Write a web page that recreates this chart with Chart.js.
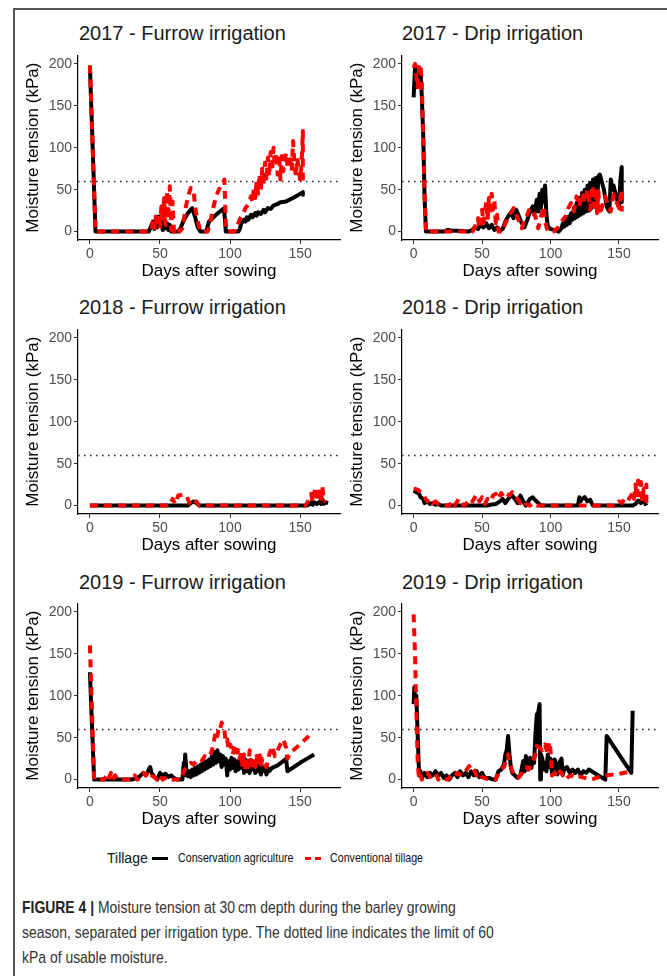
<!DOCTYPE html>
<html lang="en">
<head>
    <meta charset="UTF-8">
    <title>Figure 4 - Moisture tension</title>
    <script src="https://cdn.jsdelivr.net/npm/chart.js"></script>
    <style>
        body {
            margin: 0;
            width: 667px;
            height: 976px;
            position: relative;
            overflow: hidden;
            background: #fff;
            font-family: 'Liberation Sans', Arial, sans-serif;
        }
        .frame {
            position: absolute;
            left: 13px;
            top: 8px;
            right: -10px;
            bottom: -10px;
            border-left: 2px solid #555;
            border-top: 2px solid #555;
        }
        canvas { position: absolute; }
        .ttl {
            position: absolute;
            font-size: 20px;
            line-height: 24px;
            color: #1a1a1a;
            white-space: nowrap;
        }
        .legend {
            position: absolute;
            top: 848px;
            height: 20px;
            line-height: 20px;
            white-space: nowrap;
        }
        /* condensed look of the journal font */
        .narrow {
            display: inline-block;
            transform: scaleX(0.82);
            transform-origin: left center;
            white-space: nowrap;
        }
        .caption {
            position: absolute;
            left: 22px;
            top: 895px;
            font-size: 17px;
            line-height: 25px;
            color: #333;
        }
    </style>
</head>
<body>
<div class="frame"></div>

<div class="ttl" style="left:79px; top:21px">2017 - Furrow irrigation</div>
<div class="ttl" style="left:402px; top:21px">2017 - Drip irrigation</div>
<div class="ttl" style="left:79px; top:295px">2018 - Furrow irrigation</div>
<div class="ttl" style="left:402px; top:295px">2018 - Drip irrigation</div>
<div class="ttl" style="left:79px; top:570px">2019 - Furrow irrigation</div>
<div class="ttl" style="left:402px; top:570px">2019 - Drip irrigation</div>

<canvas id="p1" width="330" height="245" style="left:15px; top:45px"></canvas>
<canvas id="p2" width="327" height="245" style="left:340px; top:45px"></canvas>
<canvas id="p3" width="330" height="245" style="left:15px; top:319px"></canvas>
<canvas id="p4" width="327" height="245" style="left:340px; top:319px"></canvas>
<canvas id="p5" width="330" height="245" style="left:15px; top:593px"></canvas>
<canvas id="p6" width="327" height="245" style="left:340px; top:593px"></canvas>

<div class="legend" style="left:107px; font-size:14px; color:#111">Tillage</div>
<div class="legend" style="left:152px"><div style="margin-top:9px; width:16px; height:3px; background:#000"></div></div>
<div class="legend" style="left:178px; font-size:13px; color:#111"><span class="narrow">Conservation agriculture</span></div>
<div class="legend" style="left:305px"><div style="margin-top:9px; width:16px; height:3px; background:repeating-linear-gradient(90deg,#f00 0 6px,transparent 6px 10px)"></div></div>
<div class="legend" style="left:330px; font-size:13px; color:#111"><span class="narrow">Conventional tillage</span></div>

<div class="caption">
    <span class="narrow"><b style="color:#222">FIGURE 4 |</b> Moisture tension at 30&thinsp;cm depth during the barley growing</span><br>
    <span class="narrow">season, separated per irrigation type. The dotted line indicates the limit of 60</span><br>
    <span class="narrow">kPa of usable moisture.</span>
</div>

<script>
    // [day after sowing, moisture tension kPa]
    const furrow2017CA = [[0,198],[4,0],[42,0],[44,8],[45,12],[46,3],[47,15],[48,5],[49,18],[50,8],[51,14],[52,2],[53,15],[54,4],[55,10],[56,2],[57,8],[58,0],[63,0],[65,5],[67,14],[70,22],[73,28],[75,18],[77,5],[79,0],[83,0],[85,12],[90,20],[95,27],[96,22],[97,0],[100,0],[106,0],[107,3],[108,10],[110,14],[111,12],[112,17],[113,14],[115,20],[116,17],[118,22],[119,19],[120,23],[122,21],[124,26],[125,23],[127,28],[129,27],[131,31],[134,33],[136,35],[140,36],[145,40],[150,45],[152,47],[152,44]];
    const furrow2017CT = [[0,198],[4,0],[42,0],[44,2],[45,14],[46,4],[47,18],[48,6],[49,22],[50,3],[51,30],[52,10],[53,40],[54,8],[55,48],[56,15],[57,54],[58,2],[59,36],[60,0],[62,5],[64,0],[66,4],[68,25],[70,42],[72,52],[74,50],[75,30],[77,12],[79,0],[84,0],[86,12],[88,28],[90,42],[92,50],[94,55],[96,62],[97,10],[98,0],[103,0],[105,6],[107,15],[109,20],[111,28],[113,32],[115,42],[116,35],[117,52],[118,40],[119,60],[120,45],[121,68],[122,50],[123,75],[124,55],[125,82],[126,60],[127,88],[128,66],[129,95],[130,72],[131,100],[132,78],[133,94],[134,68],[135,92],[136,62],[137,90],[138,72],[139,85],[140,94],[141,78],[143,86],[144,72],[145,108],[146,80],[147,66],[148,88],[150,62],[151,78],[152,120],[152,58]];

    const drip2017CA = [[0,160],[1,195],[2,172],[3,196],[4,178],[5,192],[6,160],[7,115],[8,40],[9,0],[22,0],[25,2],[28,1],[32,1],[40,0],[43,2],[45,6],[47,3],[49,8],[51,5],[53,10],[55,4],[57,8],[59,2],[61,5],[63,1],[65,3],[67,12],[69,18],[71,23],[73,16],[75,26],[77,18],[79,10],[81,5],[83,14],[85,24],[87,30],[88,20],[90,38],[91,24],[92,45],[93,28],[94,50],[95,35],[96,55],[97,20],[98,6],[100,3],[103,2],[106,0],[108,4],[109,10],[110,6],[111,14],[112,8],[113,18],[114,10],[115,22],[116,14],[117,28],[118,16],[119,34],[120,18],[121,40],[122,20],[123,46],[124,22],[125,50],[126,24],[127,55],[128,25],[129,58],[130,28],[131,62],[132,30],[133,64],[134,35],[135,66],[136,68],[137,62],[139,50],[141,30],[143,24],[144,62],[145,50],[146,55],[148,42],[150,30],[151,60],[152,77],[152,35]];
    const drip2017CT = [[0,195],[1,200],[2,185],[3,172],[4,196],[5,200],[6,175],[7,110],[8,45],[9,0],[22,0],[43,0],[45,6],[47,16],[48,4],[50,26],[51,10],[53,36],[54,14],[55,40],[56,20],[57,45],[58,26],[59,36],[60,10],[61,20],[62,0],[65,0],[67,10],[69,16],[71,22],[73,28],[75,20],[77,12],[79,4],[81,14],[83,20],[85,28],[87,24],[89,18],[90,10],[91,4],[93,18],[95,30],[96,12],[98,0],[102,0],[105,4],[107,10],[109,14],[111,18],[113,28],[115,34],[117,24],[119,42],[121,30],[123,46],[125,34],[127,50],[129,26],[130,46],[131,55],[132,30],[133,52],[134,22],[135,48],[136,20],[138,32],[140,42],[142,30],[144,24],[146,44],[148,36],[150,28],[152,50],[152,24]];

    const furrow2018CA = [[0,0],[70,0],[72,3],[74,5],[76,3],[78,0],[155,0],[157,2],[158,4],[159,1],[160,4],[162,2],[164,5],[165,2],[166,7],[167,2],[168,4],[170,3]];
    const furrow2018CT = [[0,0],[57,0],[59,8],[61,2],[63,12],[66,13],[69,12],[71,3],[74,0],[76,5],[78,0],[154,0],[156,6],[158,14],[159,4],[161,22],[162,5],[164,22],[165,4],[166,22],[167,6],[168,4]];

    const drip2018CA = [[0,18],[2,16],[4,14],[5,10],[7,8],[8,3],[10,5],[12,2],[14,3],[16,1],[18,2],[20,0],[54,0],[56,1],[60,2],[63,5],[65,8],[67,3],[70,10],[72,12],[74,8],[76,3],[78,12],[80,5],[82,0],[85,8],[87,10],[89,6],[91,3],[93,0],[120,0],[121,10],[122,5],[123,8],[125,10],[127,5],[129,7],[130,3],[131,0],[160,0],[162,2],[164,6],[166,3],[168,10],[169,3],[170,0]];
    const drip2018CT = [[0,20],[3,19],[6,15],[8,10],[10,5],[12,8],[14,3],[16,5],[18,2],[20,0],[26,0],[28,5],[30,0],[33,8],[35,3],[37,0],[40,5],[42,2],[44,8],[46,13],[48,5],[50,10],[52,2],[54,8],[56,5],[58,12],[60,14],[62,8],[64,15],[66,10],[68,14],[70,12],[72,16],[74,10],[76,8],[78,3],[80,6],[82,2],[85,0],[87,3],[90,0],[148,0],[150,5],[152,3],[154,8],[156,5],[158,10],[160,15],[161,8],[162,25],[163,10],[164,30],[165,12],[166,28],[167,5],[168,20],[169,8],[170,25],[170,0]];

    const furrow2019CA = [[0,128],[3,0],[30,0],[35,3],[38,8],[40,5],[42,12],[43,15],[44,8],[46,3],[48,0],[50,8],[52,5],[54,7],[56,3],[58,5],[60,2],[62,0],[66,0],[67,20],[67.5,5],[68,30],[69,8],[70,4],[71,10],[72,3],[73,12],[74,5],[75,14],[76,6],[77,16],[78,8],[79,18],[80,10],[81,20],[82,12],[83,22],[84,14],[85,24],[86,16],[87,28],[88,18],[89,33],[90,20],[91,35],[92,22],[93,30],[94,15],[95,28],[96,18],[97,25],[98,5],[99,22],[100,12],[101,26],[102,14],[103,24],[104,10],[105,22],[106,12],[107,25],[108,14],[109,28],[110,8],[111,24],[112,10],[113,22],[114,8],[115,20],[116,12],[117,18],[118,8],[119,20],[120,10],[121,18],[122,6],[123,16],[124,10],[125,15],[126,6],[127,14],[128,10],[130,14],[134,17],[138,22],[140,25],[141,10],[150,20],[155,25],[160,30]];
    const furrow2019CT = [[0,160],[3,0],[10,0],[12,5],[13,0],[15,8],[16,0],[18,5],[20,0],[30,0],[32,5],[34,0],[36,3],[38,8],[40,5],[42,10],[44,5],[46,3],[48,0],[50,5],[52,0],[55,3],[58,0],[65,0],[67,10],[69,15],[72,20],[74,18],[76,22],[78,25],[80,23],[82,28],[84,26],[86,30],[88,40],[89,50],[90,58],[91,52],[92,62],[93,60],[94,68],[95,65],[96,58],[97,45],[98,48],[99,35],[100,42],[101,38],[102,30],[103,38],[104,42],[105,32],[106,35],[107,25],[108,32],[109,15],[110,30],[111,10],[112,25],[113,15],[114,35],[115,20],[116,12],[117,25],[118,15],[119,28],[120,15],[121,33],[122,15],[123,25],[124,20],[126,15],[128,30],[130,40],[132,28],[134,35],[136,42],[138,48],[140,38],[141,25],[143,32],[150,42],[155,50],[158,55]];

    const drip2019CA = [[0,90],[0.5,110],[1,95],[2,100],[3,50],[4,5],[5,10],[6,2],[8,8],[10,3],[12,8],[14,5],[16,10],[18,5],[20,8],[22,2],[24,5],[26,0],[28,5],[30,8],[32,3],[34,10],[36,5],[38,8],[40,3],[42,10],[44,5],[46,10],[48,3],[50,8],[52,2],[55,2],[58,0],[60,0],[62,10],[64,12],[66,18],[67,30],[68,35],[69,52],[70,30],[71,15],[72,8],[74,5],[76,2],[78,5],[80,22],[81,10],[82,28],[83,12],[84,18],[85,26],[86,14],[87,25],[88,20],[89,55],[90,78],[90.5,40],[91,80],[92,90],[92.5,0],[93,30],[94,25],[95,12],[96,20],[97,10],[98,30],[99,15],[100,25],[101,8],[102,15],[103,24],[104,20],[105,6],[106,10],[107,22],[108,25],[109,6],[110,12],[112,15],[114,8],[116,12],[118,8],[120,12],[122,5],[124,10],[126,8],[128,12],[130,10],[140,0],[141,52],[159,8],[160,82]];
    const drip2019CT = [[0,197],[1,150],[2,80],[3,20],[4,0],[5,5],[6,0],[8,5],[10,8],[12,3],[14,5],[16,8],[18,0],[20,3],[25,0],[28,5],[30,3],[32,8],[35,5],[38,10],[40,15],[42,18],[44,12],[46,5],[48,8],[50,3],[55,0],[60,0],[62,8],[64,12],[66,15],[68,25],[69,30],[70,20],[72,10],[74,5],[76,2],[78,5],[80,10],[82,15],[84,12],[86,18],[88,25],[89,30],[90,40],[92,38],[94,35],[96,42],[98,30],[99,45],[100,35],[101,5],[103,8],[105,3],[107,10],[109,5],[111,8],[113,3],[115,5],[118,2],[120,4],[125,2],[130,0],[135,3],[140,5],[150,7],[160,10]];

    const xTicks = [0, 50, 100, 150];
    const yTicks = [0, 50, 100, 150, 200];
    const limitKPa = 60;

    const panels = [
        { id: 'p1', ca: furrow2017CA, ct: furrow2017CT, col: 0 },
        { id: 'p2', ca: drip2017CA,   ct: drip2017CT,   col: 1 },
        { id: 'p3', ca: furrow2018CA, ct: furrow2018CT, col: 0 },
        { id: 'p4', ca: drip2018CA,   ct: drip2018CT,   col: 1 },
        { id: 'p5', ca: furrow2019CA, ct: furrow2019CT, col: 0 },
        { id: 'p6', ca: drip2019CA,   ct: drip2019CT,   col: 1 }
    ];

    // layout per column: y axis width, right padding, y-title offset
    const colLayout = [
        { yWidth: 63, padRight: 5, yTitlePad: 8 },
        { yWidth: 62, padRight: 9, yTitlePad: 7 }
    ];

    const limitLine = {
        id: 'limitLine',
        beforeDatasetsDraw(chart) {
            const { ctx, chartArea: a, scales: { y } } = chart;
            const py = Math.round(y.getPixelForValue(limitKPa)) + 0.5;
            ctx.save();
            ctx.setLineDash([1.5, 4.5]);
            ctx.lineWidth = 1.5;
            ctx.strokeStyle = '#222';
            ctx.beginPath();
            ctx.moveTo(a.left, py);
            ctx.lineTo(a.right, py);
            ctx.stroke();
            ctx.restore();
        }
    };

    const toPts = arr => arr.map(p => ({ x: p[0], y: p[1] }));
    const fontFam = "'Liberation Sans', Arial, sans-serif";

    panels.forEach(p => {
        const lay = colLayout[p.col];
        new Chart(document.getElementById(p.id), {
            type: 'line',
            data: {
                datasets: [{
                    label: 'Conservation agriculture',
                    data: toPts(p.ca),
                    borderColor: '#000',
                    borderWidth: 4,
                    borderJoinStyle: 'round',
                    pointRadius: 0,
                    tension: 0,
                    order: 1
                }, {
                    label: 'Conventional tillage',
                    data: toPts(p.ct),
                    borderColor: '#ff0000',
                    borderWidth: 4,
                    borderDash: [8, 6],
                    borderJoinStyle: 'round',
                    pointRadius: 0,
                    tension: 0,
                    order: 0
                }]
            },
            options: {
                responsive: false,
                animation: false,
                layout: { padding: { top: 8, right: lay.padRight, left: 0, bottom: 0 } },
                plugins: {
                    legend: { display: false },
                    tooltip: { enabled: false }
                },
                scales: {
                    x: {
                        type: 'linear',
                        min: -8.5,
                        max: 178.5,
                        afterBuildTicks: s => { s.ticks = xTicks.map(v => ({ value: v })); },
                        afterFit: s => { s.height = 50; },
                        grid: { display: true, drawOnChartArea: false, drawTicks: true, tickLength: 4, color: '#333' },
                        border: { display: true, color: '#000', width: 1.2 },
                        ticks: { color: '#4d4d4d', font: { size: 14, family: fontFam }, padding: 2, maxRotation: 0 },
                        title: { display: true, text: 'Days after sowing', color: '#000',
                                 font: { size: 17, family: fontFam }, padding: { top: 0, bottom: 8 } }
                    },
                    y: {
                        min: -10,
                        max: 210,
                        afterBuildTicks: s => { s.ticks = yTicks.map(v => ({ value: v })); },
                        afterFit: s => { s.width = lay.yWidth; },
                        grid: { display: true, drawOnChartArea: false, drawTicks: true, tickLength: 4, color: '#333' },
                        border: { display: true, color: '#000', width: 1.2 },
                        ticks: { color: '#4d4d4d', font: { size: 14, family: fontFam }, padding: 2 },
                        title: { display: true, text: 'Moisture tension (kPa)', color: '#000',
                                 font: { size: 17, family: fontFam }, padding: { top: lay.yTitlePad, bottom: 0 } }
                    }
                }
            },
            plugins: [limitLine]
        });
    });
</script>
</body>
</html>
